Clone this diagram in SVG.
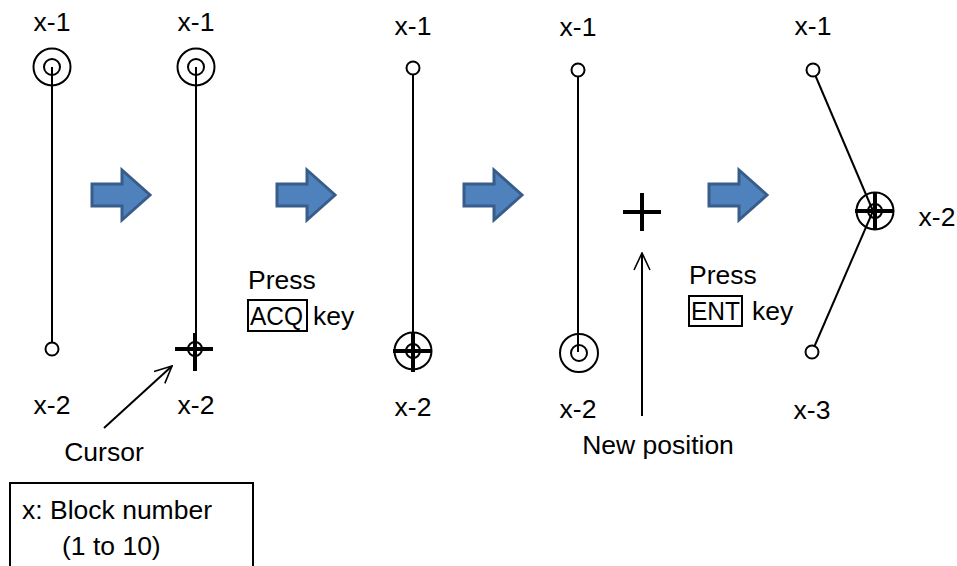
<svg xmlns="http://www.w3.org/2000/svg" width="957" height="566" viewBox="0 0 957 566">
<defs>
<style>
text{font-family:"Liberation Sans",Arial,sans-serif;font-size:26.5px;fill:#000}
.ln{stroke:#000;stroke-width:2;fill:none}
.c{stroke:#000;stroke-width:2;fill:#fff}
.x{stroke:#000;stroke-width:4;fill:none}
.blk{fill:#4F81BD;stroke:#385D8A;stroke-width:3}
.box{fill:#fff;stroke:#000;stroke-width:2}
</style>
<marker id="ah" viewBox="0 0 20 20" refX="19" refY="10" markerWidth="20" markerHeight="20" markerUnits="userSpaceOnUse" orient="auto">
<path d="M2,2 L19,10 L2,18" fill="none" stroke="#000" stroke-width="1.6"/>
</marker>
<path id="barrow" d="M0,14 H30 V0 L58,25 L30,50 V36 H0 Z"/>
</defs>

<g id="connectors">
<line class="ln" x1="52" y1="67" x2="52" y2="349"/>
<line class="ln" x1="196" y1="67" x2="196" y2="349"/>
<line class="ln" x1="413" y1="68" x2="413" y2="350"/>
<line class="ln" x1="578" y1="70" x2="578" y2="352"/>
<line class="ln" x1="813" y1="70" x2="873" y2="211"/>
<line class="ln" x1="873" y1="211" x2="812" y2="352"/>
<line class="ln" x1="104" y1="428" x2="172" y2="366" marker-end="url(#ah)"/>
<line class="ln" x1="642" y1="416" x2="642" y2="253" marker-end="url(#ah)"/>
</g>

<g id="panel1">
<circle cx="52" cy="67" r="18.5" class="ln"/>
<circle cx="52" cy="67" r="8" class="ln"/>
<circle cx="52" cy="349" r="6.5" class="c"/>
<text x="52" y="31" text-anchor="middle">x-1</text>
<text x="52" y="414" text-anchor="middle">x-2</text>
</g>

<g id="panel2">
<circle cx="196" cy="67" r="18.5" class="ln"/>
<circle cx="196" cy="67" r="8" class="ln"/>
<line class="x" x1="175" y1="349" x2="213" y2="349"/>
<line class="x" x1="195" y1="333" x2="195" y2="371"/>
<circle cx="195" cy="349" r="7" class="ln"/>
<text x="196" y="31" text-anchor="middle">x-1</text>
<text x="196" y="414" text-anchor="middle">x-2</text>
<text x="104" y="461" text-anchor="middle">Cursor</text>
</g>

<g id="panel3">
<circle cx="413" cy="68" r="6.5" class="c"/>
<circle cx="413" cy="351" r="18.5" class="ln"/>
<line class="x" x1="393" y1="351" x2="432" y2="351"/>
<line class="x" x1="413" y1="333" x2="413" y2="372"/>
<circle cx="413" cy="351" r="7" class="ln"/>
<text x="413" y="35" text-anchor="middle">x-1</text>
<text x="413" y="416" text-anchor="middle">x-2</text>
</g>

<g id="panel4">
<circle cx="578" cy="70" r="6.5" class="c"/>
<circle cx="579" cy="353" r="19" class="ln"/>
<circle cx="579" cy="353" r="8" class="ln"/>
<text x="578" y="36" text-anchor="middle">x-1</text>
<text x="578" y="418" text-anchor="middle">x-2</text>
</g>

<g id="newpos">
<line class="x" x1="623" y1="212" x2="661" y2="212"/>
<line class="x" x1="642" y1="193" x2="642" y2="231"/>
<text x="658" y="454" text-anchor="middle">New position</text>
</g>

<g id="panel5">
<circle cx="813" cy="70" r="6.5" class="c"/>
<circle cx="812" cy="352" r="6.5" class="c"/>
<circle cx="875" cy="211" r="18.5" class="ln"/>
<line class="x" x1="855" y1="211" x2="894" y2="211"/>
<line class="x" x1="875" y1="193" x2="875" y2="230"/>
<circle cx="875" cy="211" r="7" class="ln"/>
<text x="813" y="35" text-anchor="middle">x-1</text>
<text x="937" y="226" text-anchor="middle">x-2</text>
<text x="812" y="419" text-anchor="middle">x-3</text>
</g>

<g id="arrow1"><use href="#barrow" class="blk" transform="translate(92,170)"/></g>
<g id="arrow2"><use href="#barrow" class="blk" transform="translate(277,170)"/></g>
<g id="arrow3"><use href="#barrow" class="blk" transform="translate(464,170)"/></g>
<g id="arrow4"><use href="#barrow" class="blk" transform="translate(709,170)"/></g>

<g id="acq">
<text x="248" y="289">Press</text>
<rect x="248" y="300" width="59" height="31" fill="none" stroke="#000" stroke-width="2"/>
<text x="250" y="325" textLength="53" lengthAdjust="spacingAndGlyphs">ACQ</text>
<text x="313" y="325">key</text>
</g>

<g id="ent">
<text x="689" y="284">Press</text>
<rect x="689" y="296" width="53" height="30" fill="none" stroke="#000" stroke-width="2"/>
<text x="691" y="320" textLength="49" lengthAdjust="spacingAndGlyphs">ENT</text>
<text x="752" y="320">key</text>
</g>

<g id="legend">
<rect x="10" y="483" width="243" height="90" class="box"/>
<text x="22" y="519">x: Block number</text>
<text x="62" y="555">(1 to 10)</text>
</g>
</svg>
